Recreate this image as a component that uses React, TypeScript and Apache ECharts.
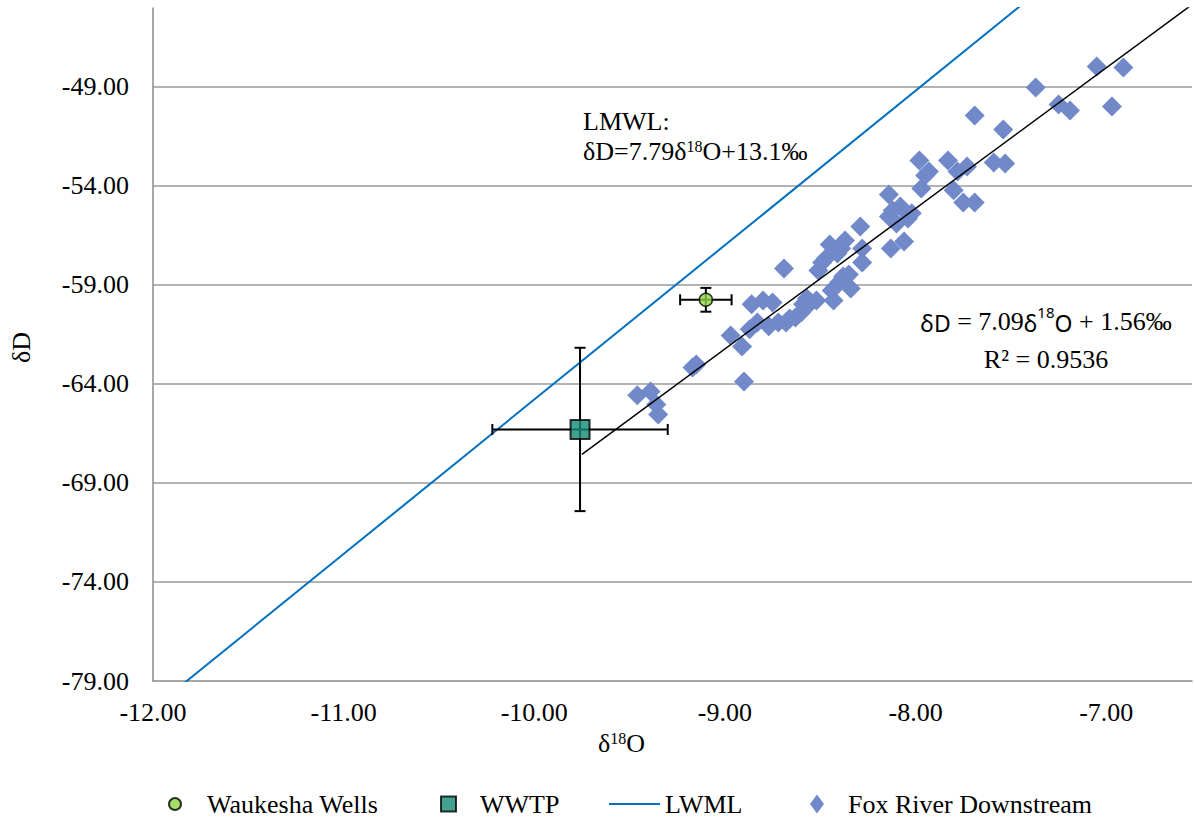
import React, { useEffect, useRef } from "react";
import * as echarts from "echarts";

// ---- data ----
const wellsPoint = [-9.1, -59.77];
const wellsErr = [0.135, 0.6];
const wwtpPoint = [-9.76, -66.31];
const wwtpErr = [0.46, 4.12];

const lmwlLine = [
  [-12.0, -80.38],
  [-7.4, -44.55],
];
const trendLine = [
  [-9.75, -67.57],
  [-6.56, -44.95],
];

const foxX = [
  -9.46, -9.39, -9.36, -9.35, -9.17, -9.15, -8.97, -8.91, -8.9, -8.87,
  -8.86, -8.83, -8.8, -8.77, -8.75, -8.72, -8.69, -8.68, -8.66, -8.63,
  -8.6, -8.59, -8.57, -8.55, -8.52, -8.51, -8.49, -8.47, -8.45, -8.44,
  -8.43, -8.41, -8.4, -8.39, -8.38, -8.37, -8.35, -8.34, -8.29, -8.28,
  -8.28, -8.14, -8.14, -8.13, -8.12, -8.1, -8.08, -8.06, -8.04, -8.02,
  -7.98, -7.97, -7.95, -7.93, -7.83, -7.8, -7.78, -7.75, -7.73, -7.69,
  -7.69, -7.59, -7.54, -7.53, -7.37, -7.25, -7.19, -7.05, -6.97, -6.91,
];
const foxY = [
  -64.59, -64.39, -65.05, -65.55, -63.18, -63.03, -61.57, -62.12, -63.89, -61.26,
  -60.0, -60.91, -59.8, -61.11, -59.9, -60.91, -58.19, -60.91, -60.71, -60.66,
  -60.41, -60.0, -59.7, -59.9, -59.8, -58.29, -57.89, -57.68, -56.98, -59.3,
  -59.8, -57.43, -58.89, -57.18, -58.59, -56.78, -58.49, -59.2, -56.07, -57.89,
  -57.18, -54.46, -55.57, -57.18, -55.26, -55.92, -55.06, -56.83, -55.67, -55.41,
  -52.74, -54.15, -53.5, -53.3, -52.74, -54.25, -53.3, -54.86, -53.04, -54.86,
  -50.47, -52.84, -51.18, -52.89, -49.06, -49.92, -50.22, -48.0, -50.02, -48.05,
];

const xTicks = [-12, -11, -10, -9, -8, -7];
const yTicks = [-79, -74, -69, -64, -59, -54, -49];

const SERIF = "'Liberation Serif', 'Times New Roman', serif";
const SANS = "'Noto Sans', 'DejaVu Sans', sans-serif";

export default function App() {
  const ref = useRef<HTMLDivElement>(null);

  useEffect(() => {
    if (!ref.current) return;
    const chart = echarts.init(ref.current, undefined, { renderer: "svg" });

    const foxData = foxX.map((x, i) => [x, foxY[i]]);
    const errData = [
      [wellsPoint[0], wellsPoint[1], wellsErr[0], wellsErr[1]],
      [wwtpPoint[0], wwtpPoint[1], wwtpErr[0], wwtpErr[1]],
    ];

    const labelStyle = { fontFamily: SERIF, fontSize: 26, color: "#000" };

    const option: any = {
      animation: false,
      backgroundColor: "#fff",
      grid: { left: 153, right: 2, top: 8, bottom: 136, containLabel: false },
      xAxis: {
        type: "value",
        min: -12,
        max: -6.55,
        interval: 1,
        axisLine: { show: true, onZero: false, lineStyle: { color: "#8a8a8a", width: 1.5 } },
        axisTick: { show: false },
        splitLine: { show: false },
        axisLabel: {
          ...labelStyle,
          margin: 18,
          showMaxLabel: false,
          formatter: (v: number) => (xTicks.includes(Math.round(v * 100) / 100) ? v.toFixed(2) : ""),
        },
      },
      yAxis: {
        type: "value",
        min: -79,
        max: -45.05,
        interval: 5,
        axisLine: { show: true, onZero: false, lineStyle: { color: "#8a8a8a", width: 1.5 } },
        axisTick: { show: false },
        splitLine: { show: true, showMaxLine: false, showMinLine: false, lineStyle: { color: "#9a9a9a", width: 1.5 } },
        axisLabel: {
          ...labelStyle,
          margin: 24,
          showMaxLabel: false,
          formatter: (v: number) => (yTicks.includes(Math.round(v * 100) / 100) ? v.toFixed(2) : ""),
        },
      },
      legend: [
        {
          left: 168, top: 791, padding: 0, itemWidth: 12, itemHeight: 12,
          data: [{ name: "Waukesha Wells", icon: "circle" }],
          textStyle: { ...labelStyle, padding: [0, 0, 0, 21] },
        },
        {
          left: 440, top: 791, padding: 0, itemWidth: 15, itemHeight: 15,
          data: [{ name: "WWTP", icon: "rect" }],
          textStyle: { ...labelStyle, padding: [0, 0, 0, 19] },
        },
        {
          left: 609, top: 791, padding: 0, itemWidth: 51, itemHeight: 2,
          data: [{ name: "LWML", icon: "rect" }],
          itemStyle: { color: "#0070c0" },
          textStyle: { ...labelStyle, padding: [0, 0, 0, 0] },
        },
        {
          left: 810, top: 791, padding: 0, itemWidth: 14, itemHeight: 19,
          data: [{ name: "Fox River Downstream", icon: "diamond" }],
          textStyle: { ...labelStyle, padding: [0, 0, 0, 19] },
        },
      ],
      series: [
        {
          name: "LWML",
          type: "line",
          data: lmwlLine,
          symbol: "none",
          showSymbol: false,
          clip: true,
          lineStyle: { color: "#0070c0", width: 2 },
          itemStyle: { color: "#0070c0" },
          z: 2,
        },
        {
          name: "Fox River Downstream",
          type: "scatter",
          data: foxData,
          symbol: "diamond",
          symbolSize: 20,
          itemStyle: { color: "#7189c9", opacity: 1 },
          z: 3,
        },
        {
          name: "Trend",
          type: "line",
          data: trendLine,
          symbol: "none",
          clip: true,
          lineStyle: { color: "#000", width: 1.5 },
          z: 4,
        },
        {
          name: "ErrorBars",
          type: "custom",
          data: errData,
          encode: { x: 0, y: 1 },
          z: 5,
          renderItem: (params: any, api: any) => {
            const x = api.value(0), y = api.value(1), ex = api.value(2), ey = api.value(3);
            const l = api.coord([x - ex, y]);
            const r = api.coord([x + ex, y]);
            const t = api.coord([x, y + ey]);
            const b = api.coord([x, y - ey]);
            const c = 5.5;
            const st = { stroke: "#000", lineWidth: 2 };
            return {
              type: "group",
              children: [
                { type: "line", shape: { x1: l[0], y1: l[1], x2: r[0], y2: r[1] }, style: st },
                { type: "line", shape: { x1: l[0], y1: l[1] - c, x2: l[0], y2: l[1] + c }, style: st },
                { type: "line", shape: { x1: r[0], y1: r[1] - c, x2: r[0], y2: r[1] + c }, style: st },
                { type: "line", shape: { x1: t[0], y1: t[1], x2: b[0], y2: b[1] }, style: st },
                { type: "line", shape: { x1: t[0] - c, y1: t[1], x2: t[0] + c, y2: t[1] }, style: st },
                { type: "line", shape: { x1: b[0] - c, y1: b[1], x2: b[0] + c, y2: b[1] }, style: st },
              ],
            };
          },
        },
        {
          name: "Waukesha Wells",
          type: "scatter",
          data: [wellsPoint],
          symbol: "circle",
          symbolSize: 13,
          itemStyle: { color: "#8ed443", borderColor: "#000", borderWidth: 1.5 },
          z: 6,
        },
        {
          name: "WWTP",
          type: "scatter",
          data: [wwtpPoint],
          symbol: "rect",
          symbolSize: 19,
          itemStyle: { color: "#138a76", borderColor: "#000", borderWidth: 2 },
          z: 6,
        },
      ],
      graphic: [
        {
          type: "text",
          left: 8,
          top: 332,
          rotation: Math.PI / 2,
          style: { text: "δD", font: `26px ${SERIF}`, fill: "#000" },
        },
        {
          type: "text",
          left: 598,
          top: 726,
          style: {
            text: "{a|δ}{s|18}{a|O}",
            rich: {
              a: { fontFamily: SERIF, fontSize: 26, lineHeight: 30, fill: "#000", verticalAlign: "bottom" },
              s: { fontFamily: SERIF, fontSize: 16, lineHeight: 30, fill: "#000", verticalAlign: "top", padding: [4, 0, 0, 0] },
            },
          },
        },
        {
          type: "text",
          left: 583,
          top: 108,
          style: {
            text: "{a|LMWL:}\n{a|δD=7.79δ}{s|18}{a|O+13.1‰}",
            rich: {
              a: { fontFamily: SERIF, fontSize: 26, lineHeight: 30, fill: "#000", verticalAlign: "bottom" },
              s: { fontFamily: SERIF, fontSize: 16, lineHeight: 30, fill: "#000", verticalAlign: "top", padding: [4, 0, 0, 0] },
            },
          },
        },
        {
          type: "text",
          x: 1046,
          y: 296,
          style: {
            text: "{b|δD}{a| = 7.09}{b|δ}{t|18}{b|O}{a| + 1.56‰}\n{a|R² = 0.9536}",
            align: "center",
            rich: {
              a: { fontFamily: SERIF, fontSize: 26, lineHeight: 38, fill: "#000", verticalAlign: "bottom", align: "center" },
              b: { fontFamily: SANS, fontSize: 23, lineHeight: 38, fill: "#000", verticalAlign: "bottom", align: "center" },
              t: { fontFamily: SANS, fontSize: 15, lineHeight: 38, fill: "#000", verticalAlign: "top", padding: [8, 0, 0, 0], align: "center" },
            },
          },
        },
      ],
    };

    chart.setOption(option);
    return () => chart.dispose();
  }, []);

  return (
    <div
      ref={ref}
      style={{ position: "fixed", left: 0, top: 0, width: 1194, height: 817, background: "#fff" }}
    />
  );
}
